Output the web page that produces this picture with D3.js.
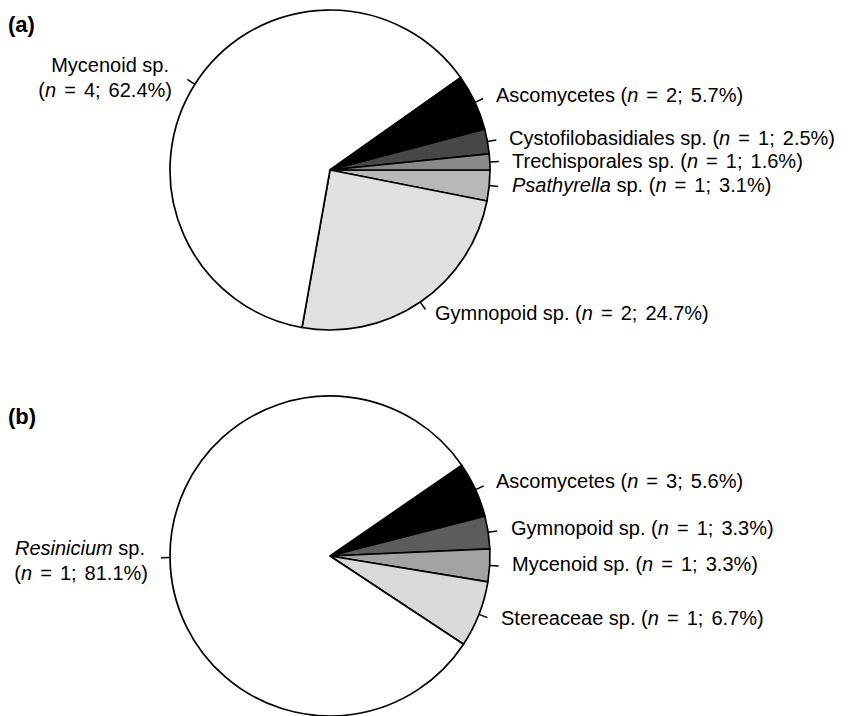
<!DOCTYPE html>
<html>
<head>
<meta charset="utf-8">
<script src="https://cdn.jsdelivr.net/npm/d3@7"></script>
<style>
  body { margin: 0; background: #fff; }
  text { font-family: 'Liberation Sans', Arial, sans-serif; font-size: 20px; fill: #000; }
</style>
</head>
<body>
<div id="chart"></div>
<script>
// panel (a), clockwise from 3 o'clock
var taxaA = ['Psathyrella sp.', 'Gymnopoid sp.', 'Mycenoid sp.', 'Ascomycetes', 'Cystofilobasidiales sp.', 'Trechisporales sp.'];
var countsA = [1, 2, 4, 2, 1, 1];
var percentA = [3.1, 24.7, 62.4, 5.7, 2.5, 1.6];

// panel (b), clockwise from the top of the black wedge
var taxaB = ['Ascomycetes', 'Gymnopoid sp.', 'Mycenoid sp.', 'Stereaceae sp.', 'Resinicium sp.'];
var countsB = [3, 1, 1, 1, 1];
var percentB = [5.6, 3.3, 3.3, 6.7, 81.1];

var italicGenera = ['Psathyrella', 'Resinicium'];

var width = 850;
var height = 716;
var radius = 160;
var tickLen = 9;

var panels = [
  { tag: '(a)', tagY: 32, cx: 330, cy: 170, startDeg: 0,
    taxa: taxaA, counts: countsA, pct: percentA,
    fills: ['#b8b8b8', '#e0e0e0', '#ffffff', '#000000', '#474747', '#8a8a8a'],
    labels: [[512, 192, 'start'], [435, 320, 'start'], [171, 72, 'end'],
             [496, 102, 'start'], [509, 145, 'start'], [512, 168, 'start']] },
  { tag: '(b)', tagY: 424, cx: 330, cy: 556, startDeg: -34.6,
    taxa: taxaB, counts: countsB, pct: percentB,
    fills: ['#000000', '#5c5c5c', '#a3a3a3', '#d9d9d9', '#ffffff'],
    labels: [[496, 488, 'start'], [511, 535, 'start'], [512, 571, 'start'],
             [501, 625, 'start'], [147, 555, 'end']] }
];

var rad = (deg) => deg * Math.PI / 180;

var svg = d3.select('#chart')
  .append('svg')
  .attr('width', width)
  .attr('height', height);

var arc = d3.arc().innerRadius(0).outerRadius(radius);

// writes "Name sp." with the genus in italics when needed
var addName = function(sel, name) {
  var genus = name.split(' ')[0];
  if (italicGenera.indexOf(genus) >= 0) {
    sel.append('tspan').style('font-style', 'italic').text(genus);
    sel.append('tspan').text(name.slice(genus.length));
  } else {
    sel.append('tspan').text(name);
  }
};

var addCount = function(sel, n, p) {
  sel.append('tspan').text('(');
  sel.append('tspan').style('font-style', 'italic').text('n');
  sel.append('tspan').style('word-spacing', '2.5px').text(' = ' + n + '; ' + p.toFixed(1) + '%)');
};

panels.forEach(function(panel) {

  var data = panel.taxa.map((t, i) => ({ taxon: t, n: panel.counts[i], pct: panel.pct[i] }));

  var start = rad(90 + panel.startDeg);
  var pie = d3.pie()
    .sort(null)
    .value((d) => d.pct)
    .startAngle(start)
    .endAngle(start + 2 * Math.PI);

  var fill = d3.scaleOrdinal().domain(panel.taxa).range(panel.fills);

  svg.append('text')
    .attr('x', 8)
    .attr('y', panel.tagY)
    .style('font-weight', 'bold')
    .style('font-size', '22px')
    .text(panel.tag);

  var g = svg.append('g')
    .attr('transform', 'translate(' + panel.cx + ',' + panel.cy + ')');

  var arcs = pie(data);

  // wedges
  g.selectAll('path')
    .data(arcs)
    .enter()
    .append('path')
    .attr('d', arc)
    .style('fill', (d) => fill(d.data.taxon))
    .style('stroke', '#000')
    .style('stroke-width', 1.7)
    .style('stroke-linejoin', 'round');

  // leader ticks at the middle of each wedge
  g.selectAll('line')
    .data(arcs)
    .enter()
    .append('line')
    .attr('x1', (d) => Math.sin((d.startAngle + d.endAngle) / 2) * radius)
    .attr('y1', (d) => -Math.cos((d.startAngle + d.endAngle) / 2) * radius)
    .attr('x2', (d) => Math.sin((d.startAngle + d.endAngle) / 2) * (radius + tickLen))
    .attr('y2', (d) => -Math.cos((d.startAngle + d.endAngle) / 2) * (radius + tickLen))
    .style('stroke', '#000')
    .style('stroke-width', 1.5);

  // labels
  data.forEach(function(d, i) {
    var pos = panel.labels[i];
    if (pos[2] === 'end') {
      var t1 = svg.append('text').attr('x', pos[0] - 2).attr('y', pos[1]).attr('text-anchor', 'end');
      addName(t1, d.taxon);
      var t2 = svg.append('text').attr('x', pos[0] + 1).attr('y', pos[1] + 25).attr('text-anchor', 'end');
      addCount(t2, d.n, d.pct);
    } else {
      var t = svg.append('text').attr('x', pos[0]).attr('y', pos[1]);
      addName(t, d.taxon);
      t.append('tspan').text(' ');
      addCount(t, d.n, d.pct);
    }
  });
});
</script>
</body>
</html>
